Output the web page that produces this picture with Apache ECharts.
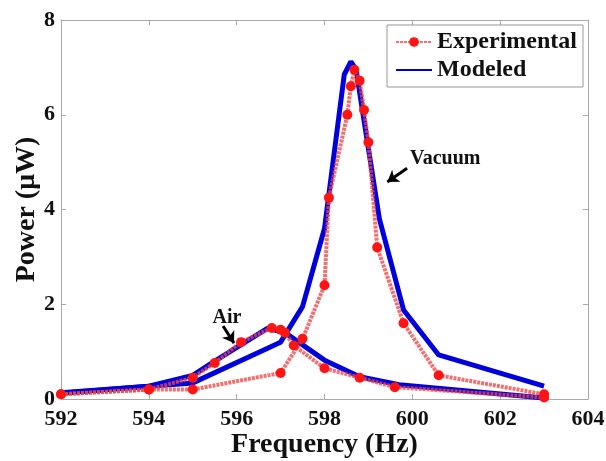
<!DOCTYPE html>
<html>
<head>
<meta charset="utf-8">
<script src="https://cdn.jsdelivr.net/npm/echarts@6/dist/echarts.min.js"></script>
<style>
  html, body { margin: 0; padding: 0; background: #fff; }
  #chart { width: 606px; height: 461px; }
</style>
</head>
<body>
<div id="chart"></div>
<script>
// experimental, vacuum
const vacFreqExp = [592, 594, 595, 597, 597.5, 598, 598.1, 598.52, 598.6, 598.68, 598.8, 598.9, 599, 599.2, 599.8, 600.6, 603];
const vacPowExp = [0.1, 0.2, 0.2, 0.55, 1.27, 2.4, 4.25, 6.0, 6.6, 6.95, 6.72, 6.1, 5.42, 3.2, 1.6, 0.5, 0.1];
// experimental, air
const airFreqExp = [592, 594, 595, 595.5, 596.1, 596.8, 597, 597.1, 597.3, 598, 598.8, 599.6, 603];
const airPowExp = [0.1, 0.2, 0.45, 0.76, 1.2, 1.5, 1.46, 1.4, 1.13, 0.65, 0.45, 0.25, 0.03];
// modeled, vacuum
const vacFreqMod = [592, 594, 595, 597, 597.5, 598, 598.45, 598.6, 598.72, 599.25, 599.8, 600.6, 603];
const vacPowMod = [0.13, 0.27, 0.34, 1.2, 1.95, 3.6, 6.85, 7.12, 6.95, 3.8, 1.88, 0.93, 0.27];
// modeled, air
const airFreqMod = [592, 594, 595, 595.5, 596.7, 597.1, 598, 598.8, 599.7, 603];
const airPowMod = [0.12, 0.27, 0.5, 0.8, 1.49, 1.4, 0.82, 0.47, 0.3, 0.02];

const pairs = (xs, ys) => xs.map((x, i) => [x, ys[i]]);

const serif = 'Liberation Serif';
const frameColor = '#a8a8a8';

const chart = echarts.init(document.getElementById('chart'));

const redLine = {
  type: 'line',
  name: 'Experimental',
  symbol: 'circle',
  symbolSize: 10,
  itemStyle: { color: '#ff1414' },
  lineStyle: { color: 'rgba(240,70,70,0.78)', width: 4, type: [3, 1] },
  z: 3
};
const blueLine = {
  type: 'line',
  name: 'Modeled',
  showSymbol: false,
  symbol: 'none',
  itemStyle: { color: '#0000dc' },
  lineStyle: { color: '#0000dc', width: 5 },
  z: 2
};

const axisCommon = {
  type: 'value',
  axisLine: { show: true, onZero: false, lineStyle: { color: frameColor, width: 1 } },
  axisTick: { show: true, inside: true, length: 5, lineStyle: { color: frameColor } },
  splitLine: { show: false }
};

const option = {
  animation: false,
  backgroundColor: '#fff',
  grid: { left: 61, right: 18, top: 20, bottom: 62, outerBoundsMode: 'none' },
  legend: {
    data: ['Experimental', { name: 'Modeled', itemStyle: { opacity: 0 } }],
    orient: 'vertical',
    left: 387,
    top: 25,
    padding: [4, 6, 4, 8],
    itemGap: 2,
    itemWidth: 36,
    itemHeight: 12,
    backgroundColor: '#fff',
    borderColor: '#999',
    borderWidth: 1,
    textStyle: { fontFamily: serif, fontWeight: 'bold', fontSize: 24, color: '#111', lineHeight: 26 }
  },
  xAxis: [
    Object.assign({}, axisCommon, {
      min: 592, max: 604, interval: 2,
      name: 'Frequency (Hz)',
      nameLocation: 'middle',
      nameGap: 32,
      nameMoveOverlap: false,
      nameTextStyle: { fontFamily: serif, fontWeight: 'bold', fontSize: 28, color: '#111' },
      axisLabel: { fontFamily: serif, fontWeight: 'bold', fontSize: 22, color: '#111', margin: 9 }
    }),
    Object.assign({}, axisCommon, {
      position: 'top',
      min: 592, max: 604, interval: 2,
      axisLabel: { show: false }
    })
  ],
  yAxis: [
    Object.assign({}, axisCommon, {
      min: 0, max: 8, interval: 2,
      name: 'Power (μW)',
      nameLocation: 'middle',
      nameGap: 20,
      nameMoveOverlap: false,
      nameTextStyle: { fontFamily: serif, fontWeight: 'bold', fontSize: 28, color: '#111' },
      axisLabel: { fontFamily: serif, fontWeight: 'bold', fontSize: 22, color: '#111', margin: 6 }
    }),
    Object.assign({}, axisCommon, {
      position: 'right',
      min: 0, max: 8, interval: 2,
      axisLabel: { show: false }
    })
  ],
  series: [
    Object.assign({}, blueLine, {
      data: pairs(vacFreqMod, vacPowMod),
      markLine: {
        silent: true,
        symbol: ['none', 'arrow'],
        symbolSize: [11, 11],
        label: { show: false },
        lineStyle: { color: '#000', width: 3, type: 'solid' },
        data: [
          [{ coord: [599.88, 4.87] }, { coord: [599.43, 4.58] }],
          [{ coord: [595.69, 1.54] }, { coord: [595.94, 1.18] }]
        ]
      },
      markPoint: {
        silent: true,
        symbol: 'circle',
        symbolSize: 1,
        itemStyle: { color: 'rgba(0,0,0,0)' },
        label: {
          show: true,
          position: 'inside',
          fontFamily: serif,
          fontWeight: 'bold',
          fontSize: 20,
          color: '#111',
          formatter: (p) => p.name
        },
        data: [
          { name: 'Vacuum', coord: [600.75, 5.08] },
          { name: 'Air', coord: [595.78, 1.71] }
        ]
      }
    }),
    Object.assign({}, blueLine, { data: pairs(airFreqMod, airPowMod) }),
    Object.assign({}, redLine, { data: pairs(vacFreqExp, vacPowExp) }),
    Object.assign({}, redLine, { data: pairs(airFreqExp, airPowExp) })
  ]
};

chart.setOption(option);
</script>
</body>
</html>
